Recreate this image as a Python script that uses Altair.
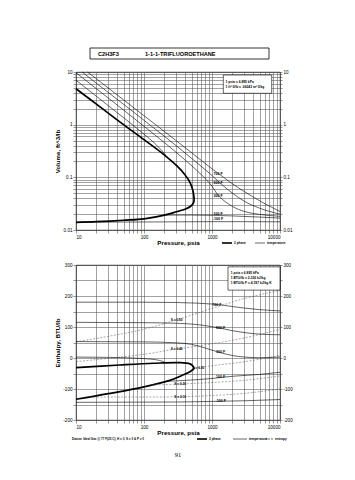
import altair as alt
import pandas as pd

FONT = "Liberation Sans"

# ---------------- Top panel: specific volume vs pressure ----------------
vol_sat_vapor_P = [10, 20, 50, 100, 200, 300, 400, 480, 520, 540, 545]
vol_sat_vapor_v = [4.8, 2.45, 1.0, 0.52, 0.265, 0.168, 0.112, 0.078, 0.058, 0.045, 0.037]
vol_sat_liquid_P = [540, 520, 480, 400, 300, 200, 100, 50, 20, 10]
vol_sat_liquid_v = [0.034, 0.031, 0.028, 0.0248, 0.0222, 0.0192, 0.0163, 0.0153, 0.0144, 0.0140]

vol_700F_P = [14.8, 20, 50, 100, 200, 525, 1000, 1312, 1840, 3270, 5620, 10000]
vol_700F_v = [10.0, 7.4, 2.96, 1.48, 0.74, 0.28, 0.145, 0.112, 0.081, 0.05, 0.033, 0.0225]
vol_500F_P = [12.3, 20, 50, 100, 200, 500, 1000, 1300, 2000, 3000, 5000, 10000]
vol_500F_v = [10.0, 6.1, 2.44, 1.21, 0.6, 0.23, 0.108, 0.079, 0.05, 0.035, 0.026, 0.020]
vol_300F_P = [10, 20, 50, 100, 200, 400, 600, 800, 1000, 1225, 1500, 2000, 3000, 5000, 10000]
vol_300F_v = [9.7, 4.8, 1.9, 0.93, 0.455, 0.215, 0.135, 0.094, 0.068, 0.046, 0.036, 0.028, 0.0225, 0.0198, 0.0182]
vol_100F_vap_P = [10, 20, 50, 100, 150, 210]
vol_100F_vap_v = [7.0, 3.45, 1.36, 0.66, 0.42, 0.262]
vol_100F_liq_P = [210, 500, 1000, 2000, 5000, 10000]
vol_100F_liq_v = [0.0192, 0.0192, 0.0190, 0.0185, 0.0176, 0.0168]
vol_m100F_P = [10, 100, 1000, 3000, 10000]
vol_m100F_v = [0.0141, 0.0142, 0.0144, 0.0144, 0.0143]

vol_label_text = ["700 F", "500 F", "300 F", "100 F", "-100 F"]
vol_label_P = [1225, 1225, 1225, 1225, 1225]
vol_label_v = [0.118, 0.077, 0.044, 0.0197, 0.0160]

vol_units_text = ["1 psia  =  6.895 kPa", "1 ft^3/lb  =  .06243 m^3/kg"]
vol_units_P = [1585, 1585]
vol_units_v = [6.55, 5.13]
vol_box_P = [1466, 7550]
vol_box_v = [8.77, 3.94]

# ---------------- Bottom panel: enthalpy vs pressure ----------------
h_sat_vapor_P = [10, 44, 139, 340, 474, 520, 545]
h_sat_vapor_h = [-31, -22.6, -17, -15, -19, -25, -33]
h_sat_liquid_P = [530, 474, 380, 240, 100, 30, 10]
h_sat_liquid_h = [-37, -44, -54, -72, -93, -115, -133]

h_700F_P = [10, 100, 300, 600, 1000, 1500, 2000, 3000, 5000, 10000]
h_700F_h = [180, 180, 179, 177, 174, 170, 166, 161, 156, 152]
h_500F_P = [10, 100, 300, 600, 1000, 1340, 2000, 3000, 5000, 10000]
h_500F_h = [115, 114, 112, 108, 101, 96, 88, 82, 77, 75]
h_300F_P = [10, 100, 300, 500, 800, 1340, 2000, 3000, 5000, 10000]
h_300F_h = [53, 52, 49, 44, 32, 17, 8, 3, 1, 3]
h_100F_vap_P = [10, 30, 100, 170, 210]
h_100F_vap_h = [3, 2, -2, -8, -15]
h_100F_liq_P = [210, 500, 1000, 1340, 2000, 5000, 10000]
h_100F_liq_h = [-75, -71, -66, -63, -59, -53, -46]
h_m100F_P = [10, 300, 1000, 3000, 10000]
h_m100F_h = [-143, -142, -140, -138, -134]

s_050_P = [10, 30, 100, 302, 1000, 3000, 10000]
s_050_h = [52, 70, 93, 123, 160, 192, 218]
s_040_P = [10, 30, 100, 302, 600, 1000, 3000, 10000]
s_040_h = [-12, -1, 12, 29, 38, 46, 65, 92]
s_030_P = [545, 630, 1000, 3000, 10000]
s_030_h = [-33, -31, -25, -12, 8]
s_020_P = [130, 340, 1000, 3000, 10000]
s_020_h = [-87, -84, -79, -72, -58]
s_010_P = [16, 100, 340, 1000, 3000, 10000]
s_010_h = [-126, -126, -125, -121, -114, -100]

h_label_text = ["700 F", "500 F", "300 F", "100 F", "-100 F"]
h_label_P = [1180, 1340, 1340, 1340, 1340]
h_label_h = [172, 97, 18, -60, -140]

s_label_text = ["S = 0.50", "S = 0.40", "S = 0.30", "S = 0.20", "S = 0.10"]
s_label_P = [302, 302, 630, 340, 340]
s_label_h = [124, 30, -33, -84, -125]

h_units_text = ["1 psia  =  6.895 kPa", "1 BTU/lb  =  2.326 kJ/kg", "1 BTU/lb F  =  4.187 kJ/kg K"]
h_units_P = [1885, 1885, 1885]
h_units_h = [275, 259, 243]
h_box_P = [1718, 10000]
h_box_h = [294, 219]

# ---------------- helpers ----------------
def curves_df(curves, ycol):
    rows = []
    for name, P, Y in curves:
        for i, (p, y) in enumerate(zip(P, Y)):
            rows.append({"curve": name, "P": p, ycol: y, "order": i})
    return pd.DataFrame(rows)


x_grid = [k * 10 ** e for e in (1, 2, 3) for k in range(1, 10)] + [10000]
x_label_expr = ("(datum.value == 10 || datum.value == 100 || datum.value == 1000 "
                "|| datum.value == 10000) ? '' + datum.value : ''")
v_grid = [round(k * 10.0 ** e, 4) for e in (-2, -1, 0) for k in range(1, 10)] + [10]
v_label_expr = ("datum.value == 0.01 ? '0.01' : datum.value == 0.1 ? '0.1' : "
                "datum.value == 1 ? '1' : datum.value == 10 ? '10' : ''")
h_grid = list(range(-200, 301, 50))
h_label_expr = ("datum.value % 100 == 0 ? (datum.value < 0 ? '-' + abs(datum.value) "
                ": '' + datum.value) : ''")

xscale = alt.Scale(type="log", domain=[10, 10000], nice=False)
vscale = alt.Scale(type="log", domain=[0.01, 10], nice=False)
hscale = alt.Scale(type="linear", domain=[-200, 300], nice=False, zero=False)

xaxis = alt.Axis(values=x_grid, labelExpr=x_label_expr, title="Pressure,  psia",
                 grid=True, tickSize=3, labelPadding=1, titleY=12, titleBaseline="middle")


def yaxis_left(values, expr, title):
    return alt.Axis(values=values, labelExpr=expr, title=title, orient="left", grid=True,
                    minExtent=14, maxExtent=14, titlePadding=2, tickSize=3, labelPadding=1)


def yaxis_right(values, expr):
    return alt.Axis(values=values, labelExpr=expr, title="", orient="right", grid=False,
                    tickSize=2, labelPadding=1)


def text_layer(texts, P, Y, ycol, yscale, size=3.6, align="center"):
    df = pd.DataFrame({"t": texts, "P": P, ycol: Y})
    return alt.Chart(df).mark_text(font=FONT, fontSize=size, fontWeight="bold",
                                   align=align, baseline="middle").encode(
        x=alt.X("P:Q", scale=xscale, axis=None),
        y=alt.Y(f"{ycol}:Q", scale=yscale, axis=None),
        text="t:N")


def box_layer(P, Y, ycol, yscale):
    df = pd.DataFrame({"p1": [P[0]], "p2": [P[1]], "y1": [Y[0]], "y2": [Y[1]]})
    return alt.Chart(df).mark_rect(fill="white", stroke="black", strokeWidth=0.6).encode(
        x=alt.X("p1:Q", scale=xscale, axis=None), x2="p2:Q",
        y=alt.Y("y1:Q", scale=yscale, axis=None), y2="y2:Q")


one = pd.DataFrame({"a": [0]})


def vtext(txt, x, y, size=3.4, align="left", weight="bold", font=FONT):
    return alt.Chart(one).mark_text(text=txt, font=font, fontSize=size, fontWeight=weight,
                                    align=align, baseline="middle").encode(
        x=alt.value(x), y=alt.value(y))


def vrule(x1, x2, y, width, dash=None):
    kw = {"color": "black", "strokeWidth": width}
    if dash:
        kw["strokeDash"] = dash
    return alt.Chart(one).mark_rule(**kw).encode(x=alt.value(x1), x2=alt.value(x2), y=alt.value(y))


# ---------------- top chart ----------------
vol_dome = curves_df([("dome", vol_sat_vapor_P + vol_sat_liquid_P,
                       vol_sat_vapor_v + vol_sat_liquid_v)], "v")
vol_iso = curves_df([
    ("700", vol_700F_P, vol_700F_v), ("500", vol_500F_P, vol_500F_v),
    ("300", vol_300F_P, vol_300F_v), ("100v", vol_100F_vap_P, vol_100F_vap_v),
    ("100l", vol_100F_liq_P, vol_100F_liq_v), ("-100", vol_m100F_P, vol_m100F_v)], "v")

top_dome = alt.Chart(vol_dome).mark_line(color="black", strokeWidth=1.7,
                                         interpolate="catmull-rom").encode(
    x=alt.X("P:Q", scale=xscale, axis=xaxis),
    y=alt.Y("v:Q", scale=vscale, axis=yaxis_left(v_grid, v_label_expr, "Volume,  ft^3/lb")),
    order="order:Q", detail="curve:N")
top_iso = alt.Chart(vol_iso).mark_line(color="black", strokeWidth=0.6,
                                       interpolate="monotone").encode(
    x=alt.X("P:Q", scale=xscale, axis=None),
    y=alt.Y("v:Q", scale=vscale, axis=yaxis_right(v_grid, v_label_expr)),
    order="order:Q", detail="curve:N")

top = alt.layer(
    top_dome, top_iso,
    text_layer(vol_label_text, vol_label_P, vol_label_v, "v", vscale),
    box_layer(vol_box_P, vol_box_v, "v", vscale),
    text_layer(vol_units_text, vol_units_P, vol_units_v, "v", vscale, size=3.3, align="left"),
    alt.Chart(one).mark_rect(fill="white", stroke="black", strokeWidth=0.8).encode(
        x=alt.value(14), x2=alt.value(193), y=alt.value(-24), y2=alt.value(-13)),
    vtext("C2H3F3", 22, -18.5, size=5.6),
    vtext("1-1-1-TRIFLUOROETHANE", 69, -18.5, size=5.6),
    vrule(146, 156, 171, 1.6),
    vtext("2 phase", 158, 171, size=3.2),
    vrule(179, 189, 171, 0.6),
    vtext("temperature", 191, 171, size=3.2),
).resolve_axis(x="independent", y="independent").properties(width=204, height=158)

# ---------------- bottom chart ----------------
h_dome = curves_df([("dome", h_sat_vapor_P + h_sat_liquid_P,
                     h_sat_vapor_h + h_sat_liquid_h)], "h")
h_iso = curves_df([
    ("700", h_700F_P, h_700F_h), ("500", h_500F_P, h_500F_h), ("300", h_300F_P, h_300F_h),
    ("100v", h_100F_vap_P, h_100F_vap_h), ("100l", h_100F_liq_P, h_100F_liq_h),
    ("-100", h_m100F_P, h_m100F_h)], "h")
h_ent = curves_df([
    ("s50", s_050_P, s_050_h), ("s40", s_040_P, s_040_h), ("s30", s_030_P, s_030_h),
    ("s20", s_020_P, s_020_h), ("s10", s_010_P, s_010_h)], "h")

bot_dome = alt.Chart(h_dome).mark_line(color="black", strokeWidth=1.7,
                                       interpolate="catmull-rom").encode(
    x=alt.X("P:Q", scale=xscale, axis=xaxis),
    y=alt.Y("h:Q", scale=hscale, axis=yaxis_left(h_grid, h_label_expr, "Enthalpy,  BTU/lb")),
    order="order:Q", detail="curve:N")
bot_iso = alt.Chart(h_iso).mark_line(color="black", strokeWidth=0.6,
                                     interpolate="monotone").encode(
    x=alt.X("P:Q", scale=xscale, axis=None),
    y=alt.Y("h:Q", scale=hscale, axis=yaxis_right(h_grid, h_label_expr)),
    order="order:Q", detail="curve:N")
bot_ent = alt.Chart(h_ent).mark_line(color="#555", strokeWidth=0.5, strokeDash=[2, 1.5],
                                     interpolate="monotone").encode(
    x=alt.X("P:Q", scale=xscale, axis=None),
    y=alt.Y("h:Q", scale=hscale, axis=None),
    order="order:Q", detail="curve:N")

bottom = alt.layer(
    bot_dome, bot_ent, bot_iso,
    text_layer(h_label_text, h_label_P, h_label_h, "h", hscale),
    text_layer(s_label_text, s_label_P, s_label_h, "h", hscale, size=3.2),
    box_layer(h_box_P, h_box_h, "h", hscale),
    text_layer(h_units_text, h_units_P, h_units_h, "h", hscale, size=3.3, align="left"),
    vtext("Datum: Ideal Gas @ 77 F(25 C),  H = 0,  S = 0 & P = 0", -4, 174, size=3.0),
    vrule(121, 131, 174, 1.6),
    vtext("2 phase", 133, 174, size=3.2),
    vrule(157, 171, 174, 0.6),
    vtext("temperature", 173, 174, size=3.2),
    vrule(189, 197, 174, 0.6, dash=[2, 1]),
    vtext("entropy", 199, 174, size=3.2),
    vtext("91", 102, 190, size=6.5, align="center", weight="normal", font="Liberation Serif"),
).resolve_axis(x="independent", y="independent").properties(width=204, height=155)

chart = alt.vconcat(top, bottom, spacing=35, bounds="flush").properties(
    padding={"left": 45, "top": 39, "right": 5, "bottom": 5}
).configure_view(stroke="black", strokeWidth=0.8).configure_axis(
    labelFont=FONT, titleFont=FONT, labelFontSize=4.6, titleFontSize=6.2,
    titleFontWeight="bold", labelColor="black", titleColor="black",
    domain=False, gridColor="#555", gridWidth=0.55, tickColor="#333", tickWidth=0.5
)

chart.save("out.html", embed_options={"renderer": "svg", "actions": False})
